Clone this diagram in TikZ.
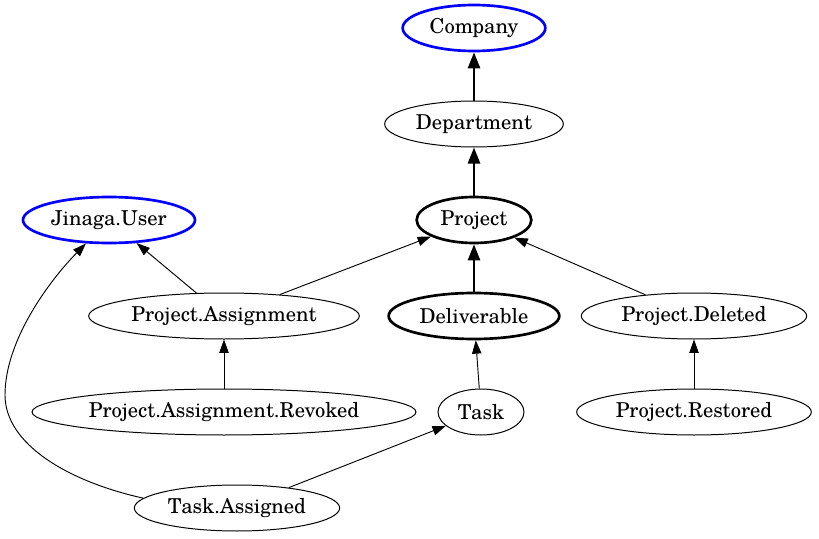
\documentclass[tikz,border=0pt]{standalone}
\usepackage{fontspec}
\setmainfont{texgyreschola}[Extension=.otf,UprightFont=*-regular]
\usetikzlibrary{shapes.geometric,arrows.meta}

\tikzset{
  fact/.style={draw, ellipse, line width=0.75pt, inner sep=0pt, minimum height=34.5pt, font=\fontsize{15.4}{18}\selectfont},
  given/.style={fact, draw=blue, line width=2pt},
  keyfact/.style={fact, line width=2pt},
  pred/.style={line width=0.7pt, -{Triangle[length=10pt,width=7pt]}},
  boldpred/.style={line width=2pt, -{Triangle[length=12pt,width=9pt]}}
}

\begin{document}
\begin{tikzpicture}[x=0.75pt, y=-0.75pt]
\useasboundingbox (0,0) rectangle (819,539);

\node [given, minimum width=107pt]   (company)     at (474,28)  {Company};
\node [fact, minimum width=134pt]    (department)  at (474,124) {Department};
\node [keyfact, minimum width=86pt]  (project)     at (474,220) {Project};
\node [given, minimum width=129pt]   (user)        at (109,220) {Jinaga.User};
\node [fact, minimum width=203pt]    (assignment)  at (224,316) {Project.Assignment};
\node [keyfact, minimum width=128pt] (deliverable) at (474,316) {Deliverable};
\node [fact, minimum width=169pt]    (deleted)     at (694,316) {Project.Deleted};
\node [fact, minimum width=288pt]    (revoked)     at (224,412) {Project.Assignment.Revoked};
\node [fact, minimum width=64.5pt]   (task)        at (481,412) {Task};
\node [fact, minimum width=176pt]    (restored)    at (694,412) {Project.Restored};
\node [fact, minimum width=154pt]    (assigned)    at (237,508) {Task.Assigned};

\begin{scope}[boldpred]
\draw (department) -- (company);
\draw (project) -- (department);
\draw (deliverable) -- (project);
\end{scope}

\begin{scope}[pred]
\draw (assignment) -- (user);
\draw (assignment) -- (project);
\draw (deleted) -- (project);
\draw (revoked) -- (assignment);
\draw (task) -- (deliverable);
\draw (restored) -- (deleted);
\draw (assigned) -- (task);
\draw (assigned.174) .. controls (70,482) and (5,445) .. (5,395)
      .. controls (5,340) and (50,280) .. (user);
\end{scope}

\end{tikzpicture}
\end{document}
